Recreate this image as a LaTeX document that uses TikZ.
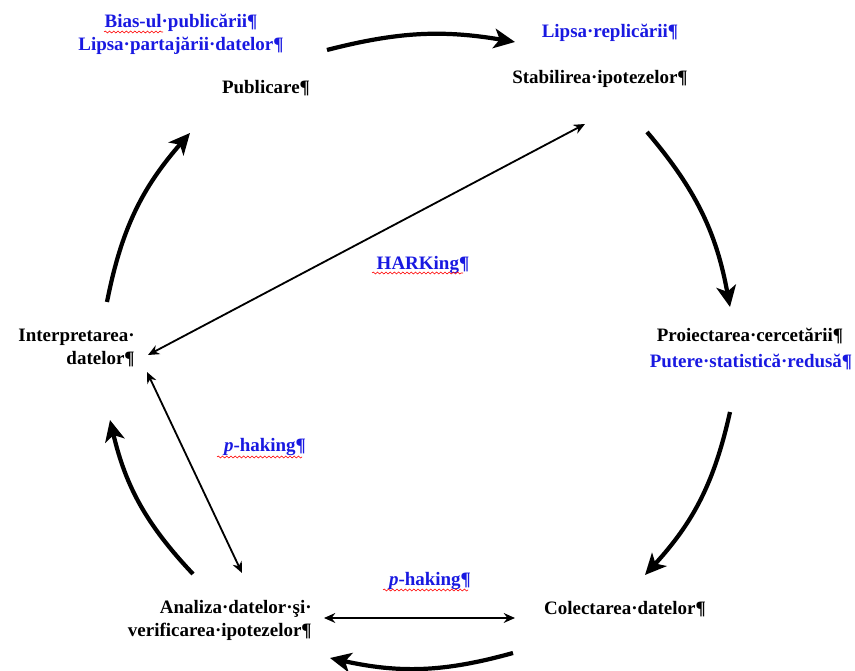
\documentclass[tikz,border=0pt]{standalone}
\usepackage{fontspec}
\setmainfont{Liberation Serif}
\usetikzlibrary{arrows.meta,decorations.pathmorphing}
\definecolor{lblblue}{RGB}{25,25,225}

\begin{document}
\begin{tikzpicture}[
  every node/.style={font=\fontsize{13.5}{16.4}\selectfont\bfseries, inner sep=0pt},
  stage/.style={text=black},
  issue/.style={text=lblblue},
  cyclearrow/.style={line width=3pt, -{Stealth[length=15pt,width=14pt,inset=4pt]}},
  twoway/.style={line width=1.3pt, {Stealth[length=8pt,width=7pt]}-{Stealth[length=8pt,width=7pt]}},
  squiggle/.style={red, line width=0.4pt, decorate, decoration={snake,amplitude=0.7pt,segment length=3pt}}
]
\useasboundingbox (0,0) rectangle (21.375,16.775);

% etapele ciclului
\node[stage] (pub) at (6.65,14.575) {Publicare¶};
\node[stage] (stab) at (15.0,14.8) {Stabilirea·ipotezelor¶};
\node[stage] (proi) at (18.75,8.375) {Proiectarea·cercetării¶};
\node[stage] (colect) at (15.625,1.55) {Colectarea·datelor¶};
\node[stage,align=right,anchor=east] (anal) at (7.8,1.275) {Analiza·datelor·şi·\\verificarea·ipotezelor¶};
\node[stage,align=right,anchor=east] (interp) at (3.375,8.075) {Interpretarea·\\datelor¶};

% probleme
\node[issue,align=center] (publIssues) at (4.525,15.925) {Bias-ul·publicării¶\\Lipsa·partajării·datelor¶};
\node[issue] (replic) at (15.25,15.95) {Lipsa·replicării¶};
\node[issue] (putere) at (18.775,7.725) {Putere·statistică·redusă¶};
\node[issue] (hark) at (10.575,10.15) {HARKing¶};
\node[issue] (phakA) at (6.625,5.6) {\textit{p}-haking¶};
\node[issue] (phakB) at (10.75,2.25) {\textit{p}-haking¶};

\draw[squiggle] (2.6,15.975) -- (4.075,15.975);
\draw[squiggle] (9.3,9.95) -- (11.575,9.95);
\draw[squiggle] (5.425,5.35) -- (7.55,5.35);
\draw[squiggle] (9.575,2.025) -- (11.7,2.025);

\coordinate (pubOut) at (8.175,15.525);
\coordinate (stabIn) at (12.875,15.725);
\coordinate (stabOut) at (16.175,13.475);
\coordinate (proiIn) at (18.25,9.1);
\coordinate (proiOut) at (18.25,6.475);
\coordinate (colectIn) at (16.125,2.4);
\coordinate (colectOut) at (12.825,0.45);
\coordinate (analIn) at (8.25,0.325);
\coordinate (analOut) at (4.825,2.425);
\coordinate (interpIn) at (2.75,6.275);
\coordinate (interpOut) at (2.675,9.225);
\coordinate (pubIn) at (4.75,13.45);

\draw[cyclearrow] (pubOut) to[bend left=12] (stabIn);
\draw[cyclearrow] (stabOut) to[bend left=15] (proiIn);
\draw[cyclearrow] (proiOut) to[bend left=15] (colectIn);
\draw[cyclearrow] (colectOut) to[bend left=14] (analIn);
\draw[cyclearrow] (analOut) to[bend left=15] (interpIn);
\draw[cyclearrow] (interpOut) to[bend left=15] (pubIn);

\coordinate (harkA) at (14.625,13.675);
\coordinate (harkB) at (3.7,7.9);
\coordinate (phakA1) at (3.675,7.475);
\coordinate (phakA2) at (6.05,2.45);
\coordinate (phakB1) at (8.1,1.325);
\coordinate (phakB2) at (12.875,1.325);

\draw[twoway] (harkB) -- (harkA);
\draw[twoway] (phakA1) -- (phakA2);
\draw[twoway] (phakB1) -- (phakB2);
\end{tikzpicture}
\end{document}
